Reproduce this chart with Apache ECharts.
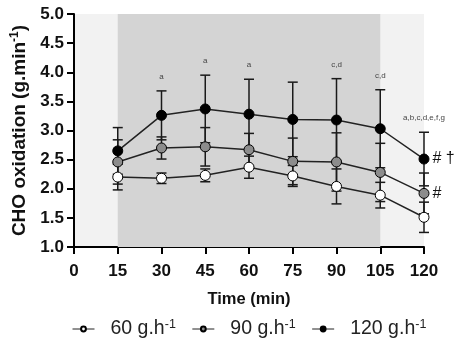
<!DOCTYPE html>
<html><head><meta charset="utf-8">
<script src="https://cdn.jsdelivr.net/npm/echarts@6/dist/echarts.min.js"></script>
<style>html,body{margin:0;padding:0;background:#fff}#c{width:460px;height:354px}</style>
</head><body><div id="c"></div>
<script>
const times = [15, 30, 45, 60, 75, 90, 105, 120];
const mean60 = [2.20, 2.18, 2.23, 2.37, 2.22, 2.04, 1.89, 1.51];
const sd60 = [0.22, 0.09, 0.11, 0.19, 0.18, 0.30, 0.22, 0.26];
const mean90 = [2.46, 2.70, 2.72, 2.67, 2.47, 2.46, 2.28, 1.92];
const sd90 = [0.38, 0.19, 0.33, 0.28, 0.40, 0.50, 0.50, 0.35];
const mean120 = [2.65, 3.26, 3.37, 3.28, 3.19, 3.18, 3.03, 2.51];
const sd120 = [0.40, 0.42, 0.58, 0.60, 0.64, 0.71, 0.67, 0.46];
const sigLetters = ['', 'a', 'a', 'a', '', 'c,d', 'c,d', 'a,b,c,d,e,f,g'];
const seriesNames = ['60', '90', '120'];
const endMarks = ['', '#', '# \u2020'];
const exercisePhase = [15, 105];
const xTicks = [0, 15, 30, 45, 60, 75, 90, 105, 120];
const yTicks = [1.0, 1.5, 2.0, 2.5, 3.0, 3.5, 4.0, 4.5, 5.0];

const fills = ['#ffffff', '#8c8c8c', '#000000'];
const means = [mean60, mean90, mean120];
const sds = [sd60, sd90, sd120];
const font = 'Liberation Sans, Arial, sans-serif';

function errSeries(idx, withLetters) {
  const data = times.map((t, i) => [t, means[idx][i], sds[idx][i], withLetters ? sigLetters[i] : '']);
  return {
    type: 'custom', silent: true, z: 2,
    data: data,
    renderItem: function (params, api) {
      const x = api.value(0), m = api.value(1), s = api.value(2);
      const top = api.coord([x, m + s]);
      const bot = api.coord([x, m - s]);
      const cw = 5;
      const st = {stroke: '#1a1a1a', lineWidth: 1.5};
      const children = [
        {type: 'line', shape: {x1: top[0], y1: top[1], x2: bot[0], y2: bot[1]}, style: st},
        {type: 'line', shape: {x1: top[0] - cw, y1: top[1], x2: top[0] + cw, y2: top[1]}, style: st},
        {type: 'line', shape: {x1: bot[0] - cw, y1: bot[1], x2: bot[0] + cw, y2: bot[1]}, style: st}
      ];
      const lab = data[params.dataIndex][3];
      if (lab) {
        children.push({type: 'text', style: {text: lab, x: top[0], y: top[1] - 14, align: 'center', verticalAlign: 'middle', fontSize: 8, fill: '#444', fontFamily: font}});
      }
      return {type: 'group', children: children};
    }
  };
}

function lineSeries(idx) {
  const data = times.map((t, i) => {
    const item = {value: [t, means[idx][i]]};
    if (i === times.length - 1 && endMarks[idx]) {
      item.label = {show: true, position: 'right', distance: 3, formatter: endMarks[idx], fontSize: 16, color: '#111', fontFamily: font};
    }
    return item;
  });
  const s = {
    name: seriesNames[idx], type: 'line', z: 3 + idx,
    data: data,
    symbol: 'circle', symbolSize: 10,
    itemStyle: {color: fills[idx], borderColor: '#000', borderWidth: 1},
    lineStyle: {color: '#222', width: 1.5},
    emphasis: {disabled: true}
  };
  if (idx === 0) {
    s.markArea = {silent: true, itemStyle: {color: '#d4d4d4'}, data: [[{xAxis: exercisePhase[0]}, {xAxis: exercisePhase[1]}]]};
  }
  return s;
}

const chart = echarts.init(document.getElementById('c'));
chart.setOption({
  animation: false,
  backgroundColor: '#fff',
  grid: {left: 74, right: 36, top: 14, bottom: 107, show: true, backgroundColor: '#f2f2f2', borderWidth: 0},
  xAxis: {
    type: 'value', min: 0, max: 120, interval: 15,
    name: 'Time (min)', nameLocation: 'middle', nameGap: 44,
    nameTextStyle: {fontSize: 16.5, fontWeight: 'bold', color: '#111', fontFamily: font},
    axisLine: {lineStyle: {color: '#000', width: 2}},
    axisTick: {length: 7, lineStyle: {color: '#000', width: 2}},
    axisLabel: {fontSize: 17, fontWeight: 'bold', color: '#111', margin: 16, fontFamily: font},
    splitLine: {show: false}
  },
  yAxis: {
    type: 'value', min: 1, max: 5, interval: 0.5,
    name: '{t|CHO oxidation (g.min}{s|-1}{t|)}', nameLocation: 'middle', nameGap: 44, nameRotate: 90,
    nameTextStyle: {fontFamily: font, color: '#111', rich: {
      t: {fontSize: 19, fontWeight: 'bold', color: '#111', fontFamily: font},
      s: {fontSize: 12, fontWeight: 'bold', color: '#111', fontFamily: font, verticalAlign: 'top', padding: [0, 0, 9, 0]}
    }},
    axisLine: {show: true, lineStyle: {color: '#000', width: 2}},
    axisTick: {show: true, length: 7, lineStyle: {color: '#000', width: 2}},
    axisLabel: {fontSize: 17, fontWeight: 'bold', color: '#111', margin: 10, fontFamily: font,
      formatter: v => v.toFixed(1)},
    splitLine: {show: false}
  },
  legend: {
    bottom: 10, left: 67, itemWidth: 22, itemHeight: 6, itemGap: 16,
    data: seriesNames,
    lineStyle: {width: 1},
    formatter: n => '{n|' + n + ' g.h}{s|-1}',
    textStyle: {fontFamily: font, rich: {
      n: {fontSize: 19.5, color: '#222', fontFamily: font, padding: [0, 0, 0, 11]},
      s: {fontSize: 12.5, color: '#222', fontFamily: font, verticalAlign: 'top', padding: [0, 0, 9, 0]}
    }}
  },
  series: [
    errSeries(0, false), errSeries(1, false), errSeries(2, true),
    lineSeries(0), lineSeries(1), lineSeries(2)
  ]
});
</script></body></html>
